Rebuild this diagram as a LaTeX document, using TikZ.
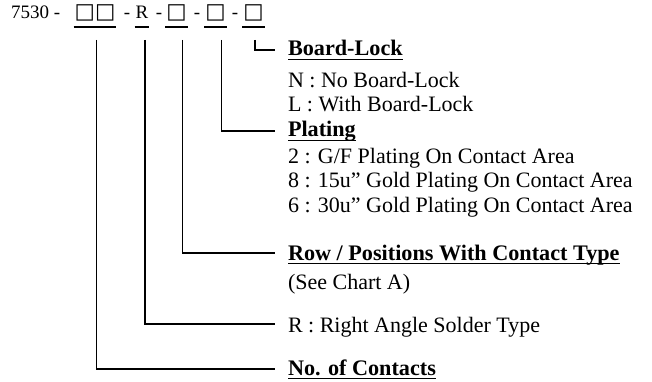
\documentclass[tikz,border=0pt]{standalone}
\usepackage{fontspec}
\setmainfont{Liberation Serif}[Ligatures=ResetAll]
\newfontfamily\boxfont{DejaVu Sans}
\usetikzlibrary{positioning}

\newcommand{\fieldbox}{{\boxfont\fontsize{21.5}{22}\selectfont\symbol{"25A1}}}

\begin{document}
\begin{tikzpicture}[
  x=1pt, y=-1pt,
  every node/.style={inner sep=0pt, outer sep=0pt},
  code/.style={font=\fontsize{19}{22}\selectfont, anchor=base},
  head/.style={font=\fontsize{22.2}{24.5}\selectfont\bfseries, anchor=base west},
  opts/.style={font=\fontsize{22}{24.5}\selectfont, anchor=base west, align=left},
  uline/.style={line width=1.5pt},
  lead/.style={line width=1.3pt},
]
\useasboundingbox (0,0) rectangle (652,382);

% part number
\node[code] (num) at (30,19) {7530};
\node[code] (d1) at (57,19) {-};
\node[code] (cnt) at (95,19) {\fieldbox\fieldbox};
\node[code] (d2) at (127,19) {-};
\node[code] (rt) at (142,19) {R};
\node[code] (d3) at (159,19) {-};
\node[code] (row) at (176.5,19) {\fieldbox};
\node[code] (d4) at (197,19) {-};
\node[code] (plt) at (215.5,19) {\fieldbox};
\node[code] (d5) at (235,19) {-};
\node[code] (lck) at (253.5,19) {\fieldbox};

\foreach \f in {cnt,rt,row,plt,lck}
  \draw[uline] ([shift={(-1,8)}]\f.base west) -- ([shift={(1,8)}]\f.base east);

% fields (the base of a list is its last line)
\node[head] (lockhd) at (288,56) {Board-Lock};
\node[opts] (lockop) at (288,112) {N : No Board-Lock\\L : With Board-Lock};
\node[head] (plthd) at (288,137) {Plating};
\node[opts] (pltop) at (288,212) {2 : G/F Plating On Contact Area\\
  8 : 15u" Gold Plating On Contact Area\\6 : 30u" Gold Plating On Contact Area};
\node[head] (rowhd) at (288,260) {Row / Positions With Contact Type};
\node[opts] (rowop) at (288,289) {(See Chart A)};
\node[opts] (rthd) at (288,332) {R : Right Angle Solder Type};
\node[head] (cnthd) at (288,375) {No. of Contacts};

\foreach \h in {lockhd,plthd,rowhd,cnthd}
  \draw[uline] ([yshift=-3.5pt]\h.base west) -- ([yshift=-3.5pt]\h.base east);

% leaders
\draw[lead] ([shift={(1.5,21)}]lck.base) |- ([shift={(-13,-6)}]lockhd.base west);
\draw[lead] ([shift={(6,21)}]plt.base) |- ([shift={(-13,-6)}]plthd.base west);
\draw[lead] ([shift={(6,21)}]row.base) |- ([shift={(-13,-7)}]rowhd.base west);
\draw[lead] ([shift={(3,21)}]rt.base) |- ([shift={(-13,-8)}]rthd.base west);
\draw[lead] ([shift={(1.5,21)}]cnt.base) |- ([shift={(-13,-6)}]cnthd.base west);
\end{tikzpicture}
\end{document}
